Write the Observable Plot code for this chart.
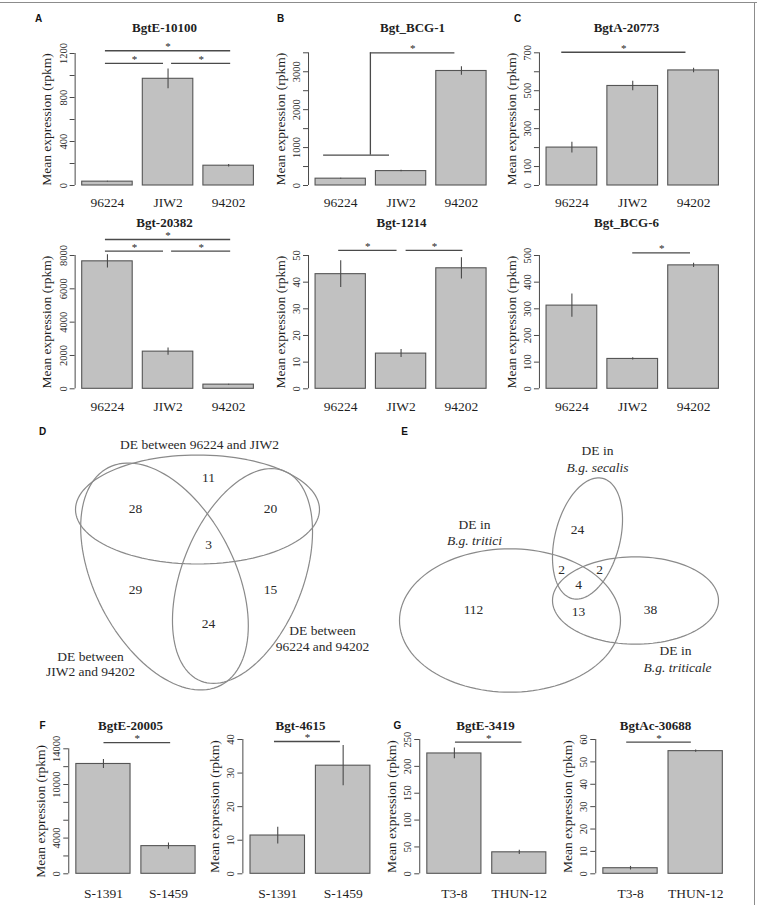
<!DOCTYPE html>
<html>
<head>
<meta charset="utf-8">
<script src="https://cdn.jsdelivr.net/npm/d3@7"></script>
<script src="https://cdn.jsdelivr.net/npm/@observablehq/plot@0.6"></script>
<style>
  html, body { margin: 0; padding: 0; background: #fff; }
  #fig { position: relative; width: 757px; height: 905px; overflow: hidden; background: #fff; }
  #fig > svg { position: absolute; font-family: "Liberation Serif", serif; }
  .rim-top { position: absolute; left: 0; top: 2px; width: 757px; height: 1px; background: #8c8c8c; }
  .rim-right { position: absolute; left: 754px; top: 2px; width: 1px; height: 903px; background: #8c8c8c; }
</style>
</head>
<body>
<div id="fig"><div class="rim-top"></div><div class="rim-right"></div></div>
<script>
// ---- isolates ----
const isolatesA_C = ["96224", "JIW2", "94202"];
const isolatesF = ["S-1391", "S-1459"];
const isolatesG = ["T3-8", "THUN-12"];

// ---- mean expression (rpkm) and standard error per gene ----
const meanBgtE10100 = [35, 970, 180];
const seBgtE10100 = [4, 90, 12];
const meanBgtBCG1 = [180, 380, 3020];
const seBgtBCG1 = [12, 20, 110];
const meanBgtA20773 = [200, 525, 607];
const seBgtA20773 = [28, 25, 12];
const meanBgt20382 = [7650, 2230, 250];
const seBgt20382 = [400, 220, 30];
const meanBgt1214 = [43, 13.2, 45.2];
const seBgt1214 = [5, 1.5, 4];
const meanBgtBCG6 = [312, 112, 463];
const seBgtBCG6 = [44, 4, 8];
const meanBgtE20005 = [12300, 3100];
const seBgtE20005 = [500, 350];
const meanBgt4615 = [11.4, 32.2];
const seBgt4615 = [2.5, 6];
const meanBgtE3419 = [224, 40];
const seBgtE3419 = [10, 4];
const meanBgtAc30688 = [2.5, 54.8];
const seBgtAc30688 = [0.8, 0.5];

// ---- y-axis ticks (all ticks, and the ones carrying a label) ----
const ticksBgtE10100 = [0, 200, 400, 600, 800, 1000, 1200];
const labelsBgtE10100 = [0, 400, 800, 1200];
const ticksBgtBCG1 = [0, 500, 1000, 1500, 2000, 2500, 3000, 3500];
const labelsBgtBCG1 = [0, 1000, 2000, 3000];
const ticksBgtA20773 = [0, 100, 200, 300, 400, 500, 600, 700];
const labelsBgtA20773 = [0, 100, 300, 500, 700];
const ticksBgt20382 = [0, 2000, 4000, 6000, 8000];
const labelsBgt20382 = [0, 2000, 4000, 6000, 8000];
const ticksBgt1214 = [0, 10, 20, 30, 40, 50];
const labelsBgt1214 = [0, 10, 20, 30, 40, 50];
const ticksBgtBCG6 = [0, 100, 200, 300, 400, 500];
const labelsBgtBCG6 = [0, 100, 200, 300, 400, 500];
const ticksBgtE20005 = [0, 2000, 4000, 6000, 8000, 10000, 12000, 14000];
const labelsBgtE20005 = [0, 4000, 10000, 14000];
const ticksBgt4615 = [0, 10, 20, 30, 40];
const labelsBgt4615 = [0, 10, 20, 30, 40];
const ticksBgtE3419 = [0, 50, 100, 150, 200, 250];
const labelsBgtE3419 = [0, 50, 100, 150, 200, 250];
const ticksBgtAc30688 = [0, 10, 20, 30, 40, 50, 60];
const labelsBgtAc30688 = [0, 10, 20, 30, 40, 50, 60];

// ---- Venn diagrams: set names and region counts ----
const vennDSets = ["DE between 96224 and JIW2", "DE between\nJIW2 and 94202", "DE between\n96224 and 94202"];
// regions: top only, top∩left, top∩right, all three, left only, right only, left∩right
const vennDCounts = [11, 28, 20, 3, 29, 15, 24];
const vennEPrefix = ["DE in", "DE in", "DE in"];
const vennESets = ["B.g. secalis", "B.g. tritici", "B.g. triticale"];
// regions: secalis only, tritici∩secalis, secalis∩triticale, all three, tritici only, tritici∩triticale, triticale only
const vennECounts = [24, 2, 2, 4, 112, 13, 38];

// ---------------------------------------------------------------------------
const fig = document.getElementById("fig");
const serif = "Liberation Serif";
const sans = "Liberation Sans";
const ink = "#1f1f1f";
const lineInk = "#4a4a4a";
const txt = {fontFamily: serif, fill: ink, stroke: "none"};

function place(svg, L, T) {
  svg.style.position = "absolute";
  svg.style.left = L + "px";
  svg.style.top = T + "px";
  fig.appendChild(svg);
}

// One R-style bar chart: bars of unit width separated by 0.2 units.
function barPanel(p) {
  const [L, T, Wd, Ht] = p.box;
  const n = p.names.length;
  const rows = p.names.map((name, i) => ({
    name, mean: p.mean[i], se: p.se[i],
    x1: 0.2 + 1.2 * i, x2: 1.2 + 1.2 * i, xc: 0.7 + 1.2 * i
  }));
  const xa = 0.06, xb = n * 1.2 + 0.05;
  const axisPx = p.u0 + xa * p.ppu;
  const ml = axisPx - L;
  const mr = L + Wd - (p.u0 + xb * p.ppu);
  const mt = p.yTop - T;
  const mb = T + Ht - p.y0;
  const topTick = p.ticks[p.ticks.length - 1];
  const at = ([x, y]) => ({frameAnchor: "top-left", dx: x - (L + ml), dy: y - (T + mt)});
  const segs = p.sig.map(([u1, u2, y]) => ({u1, u2, y, um: (u1 + u2) / 2}));
  const marks = [
    Plot.rect(rows, {x1: "x1", x2: "x2", y1: 0, y2: "mean", fill: "#c1c1c1", stroke: "#555", strokeWidth: 1.1}),
    Plot.ruleX(rows, {x: "xc", y1: d => d.mean - d.se, y2: d => d.mean + d.se, stroke: lineInk, strokeWidth: 1.1}),
    Plot.ruleX([xa], {y1: 0, y2: topTick, stroke: lineInk}),
    Plot.axisY({ticks: p.ticks, tickSize: 5, tickFormat: () => "", stroke: lineInk, label: null}),
    Plot.text(p.labeled, {y: d => d, text: d => String(d), frameAnchor: "left", dx: -12, rotate: -90,
      textAnchor: "middle", lineAnchor: "middle", fontSize: 10.5, ...txt}),
    Plot.text(["Mean expression (rpkm)"], {text: d => d, frameAnchor: "left", dx: -28, rotate: -90,
      textAnchor: "middle", lineAnchor: "middle", fontSize: 13.5, ...txt}),
    Plot.text(rows, {x: "xc", y: 0, text: "name", dy: p.nameDy, lineAnchor: "middle", fontSize: 13.5, ...txt}),
    Plot.text([p.gene], {text: d => d, ...at(p.titleXY), textAnchor: "middle", lineAnchor: "middle",
      fontWeight: "bold", fontSize: 13, ...txt}),
    Plot.ruleY(segs, {y: "y", x1: "u1", x2: "u2", stroke: lineInk, strokeWidth: 1.3}),
    Plot.text(segs, {x: "um", y: "y", text: () => "*", dy: -4, lineAnchor: "middle", fontSize: 11, ...txt})
  ];
  if (p.bracket) {
    const b = p.bracket;
    marks.push(
      Plot.ruleY([b], {y: "yLow", x1: "l1", x2: "l2", stroke: lineInk, strokeWidth: 1.3}),
      Plot.ruleX([b], {x: "stem", y1: "yLow", y2: "yHigh", stroke: lineInk, strokeWidth: 1.3}),
      Plot.ruleY([b], {y: "yHigh", x1: "stem", x2: "end", stroke: lineInk, strokeWidth: 1.3}),
      Plot.text([b], {x: d => (d.stem + d.end) / 2, y: "yHigh", text: () => "*", dy: -4, lineAnchor: "middle", fontSize: 11, ...txt})
    );
  }
  if (p.letter) {
    marks.push(Plot.text([p.letter], {text: d => d, ...at(p.letterXY), textAnchor: "middle", lineAnchor: "middle",
      fontWeight: "bold", fontSize: 10, ...txt, fontFamily: sans, fill: "#111"}));
  }
  const svg = Plot.plot({
    width: Wd, height: Ht,
    marginLeft: ml, marginRight: mr, marginTop: mt, marginBottom: mb,
    x: {domain: [xa, xb], axis: null},
    y: {domain: [0, topTick]},
    style: {color: ink, background: "transparent"},
    marks
  });
  place(svg, L, T);
}

// Venn diagram drawn in page-pixel coordinates.
function vennPanel(v) {
  const [L, T, Wd, Ht] = v.box;
  const outline = v.ellipses.flatMap((e, k) => d3.range(0, 361, 3).map(deg => {
    const t = deg * Math.PI / 180, r = e.rot * Math.PI / 180;
    return {
      k,
      x: e.cx + e.a * Math.cos(t) * Math.cos(r) - e.b * Math.sin(t) * Math.sin(r),
      y: e.cy + e.a * Math.cos(t) * Math.sin(r) + e.b * Math.sin(t) * Math.cos(r)
    };
  }));
  const counts = v.counts.map((c, i) => ({c, x: v.countXY[i][0], y: v.countXY[i][1]}));
  const marks = [
    Plot.line(outline, {x: "x", y: "y", z: "k", stroke: "#8a8a8a", strokeWidth: 1.2}),
    Plot.text(counts, {x: "x", y: "y", text: d => String(d.c), lineAnchor: "middle", fontSize: 13.5, ...txt, fill: "#2a2a2a"}),
    Plot.text([v.letter], {x: v.letterXY[0], y: v.letterXY[1], text: d => d, lineAnchor: "middle",
      fontWeight: "bold", fontSize: 10, ...txt, fontFamily: sans, fill: "#111"})
  ];
  v.labels.forEach(lab => {
    marks.push(Plot.text([lab.text], {x: lab.xy[0], y: lab.xy[1], text: d => d, lineAnchor: "middle",
      lineHeight: 1.16, fontSize: 13.5, fontStyle: lab.italic ? "italic" : "normal", ...txt, fill: "#2a2a2a"}));
  });
  const svg = Plot.plot({
    width: Wd, height: Ht, margin: 0,
    x: {domain: [L, L + Wd], range: [0, Wd], axis: null},
    y: {domain: [T, T + Ht], range: [0, Ht], axis: null},
    style: {color: ink, background: "transparent"},
    marks
  });
  place(svg, L, T);
}

// ---- bar panels ----
barPanel({gene: "BgtE-10100", letter: "A", names: isolatesA_C, mean: meanBgtE10100, se: seBgtE10100,
  ticks: ticksBgtE10100, labeled: labelsBgtE10100,
  box: [0, 5, 257, 205], u0: 71.6, ppu: 50.5, y0: 185, yTop: 53, nameDy: 17,
  titleXY: [164, 27], letterXY: [38, 18],
  sig: [[0.66, 3.14, 1225], [0.66, 1.81, 1110], [1.97, 3.14, 1110]]});

barPanel({gene: "Bgt_BCG-1", letter: "B", names: isolatesA_C, mean: meanBgtBCG1, se: seBgtBCG1,
  ticks: ticksBgtBCG1, labeled: labelsBgtBCG1,
  box: [257, 5, 243, 205], u0: 305, ppu: 50.3, y0: 185, yTop: 52.3, nameDy: 17,
  titleXY: [412, 27], letterXY: [280, 18],
  sig: [],
  bracket: {l1: 0.36, l2: 1.67, stem: 1.29, end: 2.97, yLow: 800, yHigh: 3500}});

barPanel({gene: "BgtA-20773", letter: "C", names: isolatesA_C, mean: meanBgtA20773, se: seBgtA20773,
  ticks: ticksBgtA20773, labeled: labelsBgtA20773,
  box: [500, 5, 254, 205], u0: 535.9, ppu: 50.7, y0: 185, yTop: 52.3, nameDy: 17,
  titleXY: [626, 27], letterXY: [517, 18],
  sig: [[0.5, 2.95, 703]]});

barPanel({gene: "Bgt-20382", names: isolatesA_C, mean: meanBgt20382, se: seBgt20382,
  ticks: ticksBgt20382, labeled: labelsBgt20382,
  box: [0, 210, 257, 205], u0: 71.6, ppu: 50.5, y0: 388.3, yTop: 255, nameDy: 18,
  titleXY: [164, 222],
  sig: [[0.66, 3.14, 8960], [0.66, 1.81, 8260], [1.97, 3.14, 8260]]});

barPanel({gene: "Bgt-1214", names: isolatesA_C, mean: meanBgt1214, se: seBgt1214,
  ticks: ticksBgt1214, labeled: labelsBgt1214,
  box: [257, 210, 243, 205], u0: 305, ppu: 50.3, y0: 388.3, yTop: 255, nameDy: 18,
  titleXY: [401, 222],
  sig: [[0.66, 1.82, 51.9], [2.0, 3.13, 51.9]]});

barPanel({gene: "Bgt_BCG-6", names: isolatesA_C, mean: meanBgtBCG6, se: seBgtBCG6,
  ticks: ticksBgtBCG6, labeled: labelsBgtBCG6,
  box: [500, 210, 254, 205], u0: 535.9, ppu: 50.7, y0: 388.3, yTop: 255, nameDy: 18,
  titleXY: [626, 222],
  sig: [[1.9, 3.04, 510]]});

barPanel({gene: "BgtE-20005", letter: "F", names: isolatesF, mean: meanBgtE20005, se: seBgtE20005,
  ticks: ticksBgtE20005, labeled: labelsBgtE20005,
  box: [0, 705, 200, 200], u0: 65, ppu: 54.2, y0: 873.3, yTop: 748.3, nameDy: 20,
  titleXY: [130, 725], letterXY: [42, 725],
  sig: [[0.71, 1.94, 14700]]});

barPanel({gene: "Bgt-4615", names: isolatesF, mean: meanBgt4615, se: seBgt4615,
  ticks: ticksBgt4615, labeled: labelsBgt4615,
  box: [200, 705, 180, 200], u0: 239.1, ppu: 54.5, y0: 873.3, yTop: 739, nameDy: 20,
  titleXY: [300, 725],
  sig: [[0.64, 1.85, 39.4]]});

barPanel({gene: "BgtE-3419", letter: "G", names: isolatesG, mean: meanBgtE3419, se: seBgtE3419,
  ticks: ticksBgtE3419, labeled: labelsBgtE3419,
  box: [380, 705, 180, 200], u0: 416, ppu: 54.1, y0: 873.3, yTop: 739, nameDy: 20,
  titleXY: [485, 725], letterXY: [397, 725],
  sig: [[0.72, 1.95, 245]]});

barPanel({gene: "BgtAc-30688", names: isolatesG, mean: meanBgtAc30688, se: seBgtAc30688,
  ticks: ticksBgtAc30688, labeled: labelsBgtAc30688,
  box: [560, 705, 192, 200], u0: 592, ppu: 54.3, y0: 873.3, yTop: 739, nameDy: 20,
  titleXY: [655, 725],
  sig: [[0.63, 1.82, 58.8]]});

// ---- Venn diagrams ----
vennPanel({letter: "D", letterXY: [42, 431], box: [0, 415, 380, 290],
  counts: vennDCounts,
  countXY: [[208, 477], [135, 508], [270, 508], [208, 544], [135, 589], [270, 589], [208, 623]],
  ellipses: [
    {cx: 197, cy: 509, a: 122, b: 54.5, rot: 0},
    {cx: 164, cy: 576, a: 122.5, b: 70, rot: 62.7},
    {cx: 242, cy: 575.5, a: 113, b: 60.6, rot: 111.6}
  ],
  labels: [
    {text: vennDSets[0], xy: [199, 443.5]},
    {text: vennDSets[1], xy: [90, 663]},
    {text: vennDSets[2], xy: [322, 637.5]}
  ]});

vennPanel({letter: "E", letterXY: [404, 431], box: [380, 415, 374, 290],
  counts: vennECounts,
  countXY: [[577, 529], [561, 569], [599, 569], [578, 584], [473, 609], [578, 611], [650, 609]],
  ellipses: [
    {cx: 587, cy: 538, a: 62, b: 32.5, rot: -75.7},
    {cx: 509.5, cy: 620, a: 110.5, b: 71.7, rot: 0},
    {cx: 635, cy: 600, a: 83, b: 43.7, rot: 0}
  ],
  labels: [
    {text: vennEPrefix[0], xy: [597, 449.5]},
    {text: vennESets[0], xy: [597, 466], italic: true},
    {text: vennEPrefix[1], xy: [474, 523]},
    {text: vennESets[1], xy: [474, 539.5], italic: true},
    {text: vennEPrefix[2], xy: [675, 649.5]},
    {text: vennESets[2], xy: [677, 666], italic: true}
  ]});
</script>
</body>
</html>
